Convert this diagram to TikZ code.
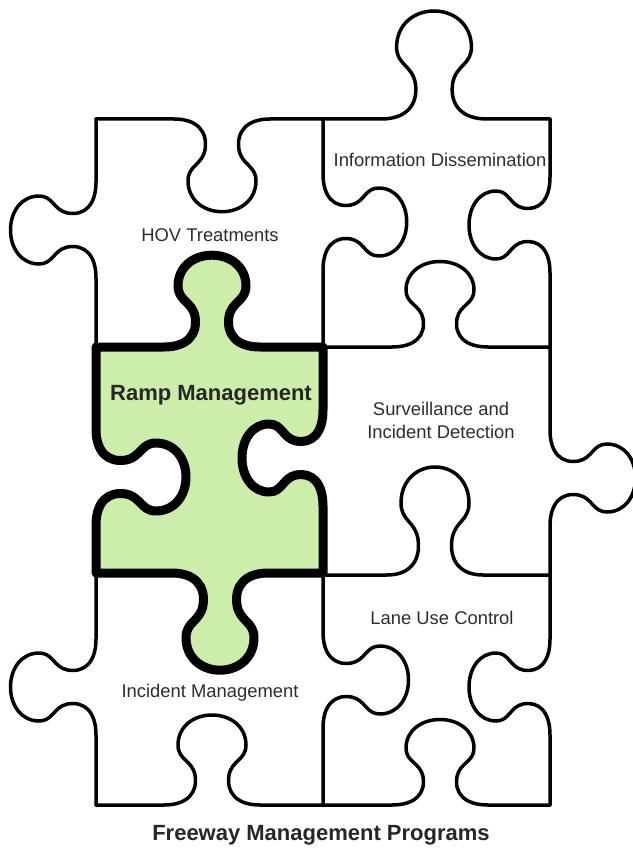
\documentclass[tikz,border=0pt]{standalone}
\usepackage{fontspec}
\setmainfont{Liberation Sans}
\definecolor{rampgreen}{RGB}{205,237,170}
\definecolor{textgray}{RGB}{45,45,45}

\begin{document}
\begin{tikzpicture}[x=1pt,y=-1pt,
    hknob/.style n args={4}{insert path={
      -- ({#1-48*(#3)},{#2})
      .. controls ({#1-25*(#3)},{#2}) and ({#1-14*(#3)},{#2+12*(#4)}) .. ({#1-17*(#3)},{#2+30*(#4)})
      .. controls ({#1-20*(#3)},{#2+45*(#4)}) and ({#1-34*(#3)},{#2+45*(#4)}) .. ({#1-34*(#3)},{#2+60*(#4)})
      .. controls ({#1-34*(#3)},{#2+78*(#4)}) and ({#1-19*(#3)},{#2+90*(#4)}) .. ({#1},{#2+90*(#4)})
      .. controls ({#1+19*(#3)},{#2+90*(#4)}) and ({#1+34*(#3)},{#2+78*(#4)}) .. ({#1+34*(#3)},{#2+60*(#4)})
      .. controls ({#1+34*(#3)},{#2+45*(#4)}) and ({#1+20*(#3)},{#2+45*(#4)}) .. ({#1+17*(#3)},{#2+30*(#4)})
      .. controls ({#1+14*(#3)},{#2+12*(#4)}) and ({#1+25*(#3)},{#2}) .. ({#1+48*(#3)},{#2})}},
    vknob/.style n args={4}{insert path={
      -- ({#1},{#2-48*(#3)})
      .. controls ({#1},{#2-25*(#3)}) and ({#1+12*(#4)},{#2-14*(#3)}) .. ({#1+30*(#4)},{#2-17*(#3)})
      .. controls ({#1+45*(#4)},{#2-20*(#3)}) and ({#1+45*(#4)},{#2-34*(#3)}) .. ({#1+60*(#4)},{#2-34*(#3)})
      .. controls ({#1+78*(#4)},{#2-34*(#3)}) and ({#1+90*(#4)},{#2-19*(#3)}) .. ({#1+90*(#4)},{#2})
      .. controls ({#1+90*(#4)},{#2+19*(#3)}) and ({#1+78*(#4)},{#2+34*(#3)}) .. ({#1+60*(#4)},{#2+34*(#3)})
      .. controls ({#1+45*(#4)},{#2+34*(#3)}) and ({#1+45*(#4)},{#2+20*(#3)}) .. ({#1+30*(#4)},{#2+17*(#3)})
      .. controls ({#1+12*(#4)},{#2+14*(#3)}) and ({#1},{#2+25*(#3)}) .. ({#1},{#2+48*(#3)})}},
    seam/.style={line width=3.5pt,line join=round,line cap=round},
    greenpiece/.style={line width=9pt,line join=round,fill=rampgreen},
    piecetext/.style={font=\fontsize{18.4}{23}\selectfont,text=textgray,align=center},
    titletext/.style={font=\fontsize{22}{26}\selectfont\bfseries,text=black!85}]
  \useasboundingbox (0,0) rectangle (632,850);

  \draw[seam] (96,119) [hknob={222}{119}{1}{1.03}] -- (323,119);
  \draw[seam] (323,119) [hknob={434}{119}{1.1}{-1.2}] -- (550,119);
  \draw[seam] (323,347) [hknob={440}{347}{1}{-0.95}] -- (550,347);
  \draw[seam] (323,575) [hknob={435}{575}{1}{-1.2}] -- (550,575);
  \draw[seam] (96,805) [hknob={212}{805}{1}{-1}] -- (323,805);
  \draw[seam] (323,805) [hknob={440}{805}{1}{-0.95}] -- (550,805);

  \draw[seam] (96,119) [vknob={96}{230}{1}{-0.95}] -- (96,347);
  \draw[seam] (96,573) [vknob={96}{687}{1}{-0.95}] -- (96,805);
  \draw[seam] (323,119) [vknob={323}{222}{1}{0.93}] -- (323,347);
  \draw[seam] (323,573) [vknob={323}{680}{1}{0.95}] -- (323,805);
  \draw[seam] (550,119) [vknob={550}{225}{1}{-0.9}] -- (550,347);
  \draw[seam] (550,347) [vknob={550}{478}{1}{0.95}] -- (550,575);
  \draw[seam] (550,575) [vknob={550}{687}{1}{-0.9}] -- (550,805);

  \draw[greenpiece] (96,347) [hknob={212}{347}{1}{-1.02}] -- (323,347)
    [vknob={323}{458}{1}{-0.9}] -- (323,573)
    [hknob={220}{573}{-1}{1.08}] -- (96,573)
    [vknob={96}{477}{-1}{1}] -- cycle;

  \node[piecetext] (info) at (440,160) {Information Dissemination};
  \node[piecetext] (hov) at (210,235) {HOV Treatments};
  \node[titletext] (ramp) at (211,395) {Ramp Management};
  \node[piecetext] (surv) at (441,420) {Surveillance and\\Incident Detection};
  \node[piecetext] (lane) at (442,618) {Lane Use Control};
  \node[piecetext] (incident) at (210,693) {Incident Management};
  \node[titletext] (caption) at (321,835) {Freeway Management Programs};
\end{tikzpicture}
\end{document}
